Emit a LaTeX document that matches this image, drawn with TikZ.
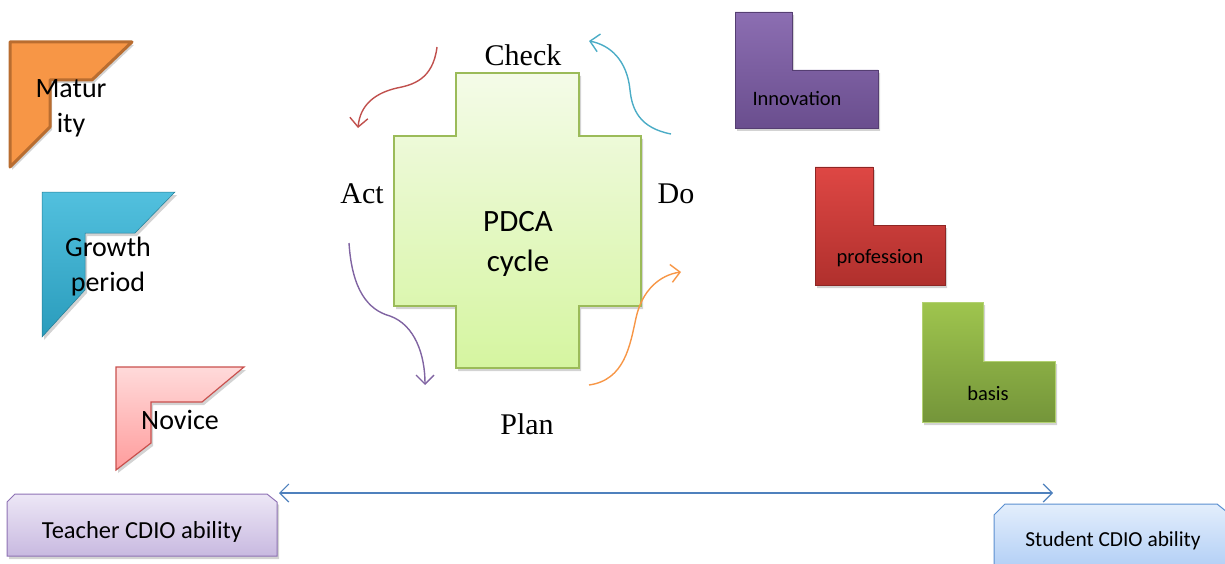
\documentclass[tikz,border=0pt]{standalone}
\usepackage{fontspec}
\setmainfont{Liberation Serif}
\newfontfamily\calib{Carlito}
\usetikzlibrary{arrows.meta,shadows}
\definecolor{orfill}{HTML}{F79646}
\definecolor{ordraw}{HTML}{B96D30}
\definecolor{cytop}{HTML}{52C0DE}
\definecolor{cybot}{HTML}{2A9CBC}
\definecolor{pktop}{HTML}{FFDADA}
\definecolor{pkbot}{HTML}{FF9C9C}
\definecolor{pkdraw}{HTML}{C9504D}
\definecolor{putop}{HTML}{8C6EB2}
\definecolor{pubot}{HTML}{6A4E8E}
\definecolor{rdtop}{HTML}{DE4744}
\definecolor{rdbot}{HTML}{B0302D}
\definecolor{grtop}{HTML}{9FC54E}
\definecolor{grbot}{HTML}{74953A}
\definecolor{crtop}{HTML}{F4FBE8}
\definecolor{crbot}{HTML}{D5F5A0}
\definecolor{crdraw}{HTML}{9BBB59}
\definecolor{tctop}{HTML}{EDE7F6}
\definecolor{tcbot}{HTML}{C8B9E0}
\definecolor{tcdraw}{HTML}{8E72B4}
\definecolor{sttop}{HTML}{E3EEFC}
\definecolor{stbot}{HTML}{A9C9F4}
\definecolor{stdraw}{HTML}{5B8FD0}
\definecolor{arblue}{HTML}{4F81BD}
\definecolor{arred}{HTML}{C0504D}
\definecolor{arpurple}{HTML}{8064A2}
\definecolor{arorange}{HTML}{F79646}
\definecolor{arcyan}{HTML}{4BACC6}
\tikzset{
  shd/.style={drop shadow={opacity=0.35,shadow xshift=2pt,shadow yshift=-3pt}},
  sanslab/.style={font=\calib\fontsize{28}{35}\selectfont,align=center,inner sep=0pt},
  smalllab/.style={font=\calib\fontsize{20.5}{22}\selectfont,inner sep=0pt,anchor=base},
  seriflab/.style={font=\fontsize{30}{32}\selectfont,inner sep=0pt,anchor=base},
  curvy/.style={line width=1.4pt,-{Straight Barb[length=9pt,width=18pt]}},
}
\begin{document}
\begin{tikzpicture}[x=1pt,y=-1pt]
\useasboundingbox (0,0) rectangle (1225,564);
\clip (0,0) rectangle (1225,564);
% left triangle shapes
\path[draw=ordraw,fill=orfill,line width=3pt,line join=round,shd]
  (10,42) -- (132,42) -- (92,80) -- (50,80) -- (50,127) -- (10,167) -- cycle;
\path[top color=cytop,bottom color=cybot,draw=cybot!80!black,line width=0.5pt,shd]
  (42,192) -- (175,192) -- (135,233) -- (85,233) -- (85,290) -- (42,337) -- cycle;
\path[top color=pktop,bottom color=pkbot,draw=pkdraw,line width=1.2pt,shd]
  (116,367) -- (244,367) -- (202,402) -- (151,402) -- (151,443) -- (116,470) -- cycle;
\node[sanslab] (maturity) at (71,108) {Matur\\ity};
\node[sanslab] (growth) at (108,267) {Growth\\period};
\node[sanslab,anchor=base] (novice) at (180,429) {Novice};
% cross
\path[top color=crtop,bottom color=crbot,draw=crdraw,line width=1.5pt,shd]
  (456,73) -- (579,73) -- (579,136) -- (641,136) -- (641,306) -- (579,306) -- (579,368)
  -- (456,368) -- (456,306) -- (394,306) -- (394,136) -- (456,136) -- cycle;
\node[font=\calib\fontsize{31}{40}\selectfont,align=center,inner sep=0pt] (pdca) at (518,244) {PDCA\\cycle};
\node[seriflab] (check) at (523,66) {Check};
\node[seriflab] (act) at (362,204) {Act};
\node[seriflab] (do) at (676,204) {Do};
\node[seriflab] (plan) at (527,434) {Plan};
% curved arrows
\coordinate (r1) at (437,47);
\coordinate (r2) at (358,128);
\coordinate (p1) at (349,243);
\coordinate (p2) at (425,385);
\coordinate (o1) at (589,385);
\coordinate (o2) at (681,272);
\coordinate (c1) at (671,134);
\coordinate (c2) at (589,41);
\draw[curvy,arred] (r1) .. controls (433,80) and (412,85) .. (397,88) .. controls (375,93) and (360,105) .. (r2);
\draw[curvy,arpurple] (p1) .. controls (352,290) and (368,310) .. (390,316) .. controls (415,325) and (425,355) .. (p2);
\draw[curvy,arorange] (o1) .. controls (625,380) and (630,345) .. (636,318) .. controls (642,290) and (660,275) .. (o2);
\draw[curvy,arcyan] (c1) .. controls (640,128) and (632,110) .. (630,90) .. controls (627,60) and (610,45) .. (c2);
% L shapes
\path[top color=putop,bottom color=pubot,draw=pubot!80!black,line width=0.5pt,shd]
  (735,12) -- (792,12) -- (792,70) -- (878,70) -- (878,128) -- (735,128) -- cycle;
\path[top color=rdtop,bottom color=rdbot,draw=rdbot!80!black,line width=0.5pt,shd]
  (815,167) -- (873,167) -- (873,225) -- (945,225) -- (945,285) -- (815,285) -- cycle;
\path[top color=grtop,bottom color=grbot,draw=grtop!80!white,line width=1pt,shd]
  (922,302) -- (983,302) -- (983,361) -- (1055,361) -- (1055,422) -- (922,422) -- cycle;
\node[smalllab] (innovation) at (797,106) {Innovation};
\node[smalllab] (profession) at (880,263) {profession};
\node[smalllab] (basis) at (988,400) {basis};
% bottom boxes
\path[top color=tctop,bottom color=tcbot,draw=tcdraw,line width=1pt,shd]
  (15,494) -- (267,494) -- (277,502) -- (277,556) -- (7,556) -- (7,502) -- cycle;
\path[top color=sttop,bottom color=stbot,draw=stdraw,line width=1pt]
  (1005,504) -- (1217,504) -- (1227,512) -- (1227,580) -- (994,580) -- (994,515) -- cycle;
\node[font=\calib\fontsize{24.5}{28}\selectfont,inner sep=0pt,anchor=base] (teacher) at (142,538) {Teacher CDIO ability};
\node[font=\calib\fontsize{21.4}{26}\selectfont,inner sep=0pt,anchor=base] (student) at (1113,546) {Student CDIO ability};
\coordinate (a1) at (279,493);
\coordinate (a2) at (1053,493);
\draw[arblue,line width=1.2pt,{Straight Barb[length=9pt,width=18pt]}-{Straight Barb[length=9pt,width=18pt]}] (a1) -- (a2);
\end{tikzpicture}
\end{document}
